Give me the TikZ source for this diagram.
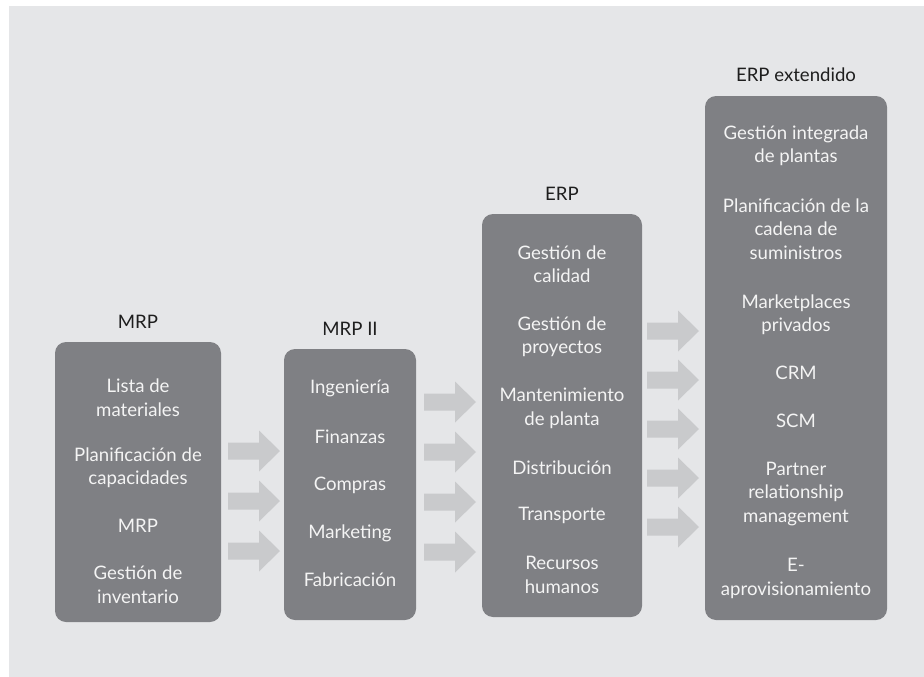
\documentclass[tikz,border=0pt]{standalone}
\usepackage{fontspec}
\setmainfont{Lato}
\definecolor{bgc}{HTML}{E5E6E8}
\definecolor{boxc}{HTML}{7F8084}
\definecolor{arrc}{HTML}{C9CACC}
\definecolor{txtc}{HTML}{F4F4F4}
\definecolor{hdc}{HTML}{1E1E1E}
\begin{document}
\begin{tikzpicture}[x=1pt,y=-1pt,
  box/.style={fill=boxc, rounded corners=11pt, inner sep=0pt},
  item/.style={text=txtc, align=center, inner sep=0pt, font=\fontsize{18.6}{23.5}\selectfont},
  hdr/.style={text=hdc, inner sep=0pt, font=\fontsize{18.6}{23.5}\selectfont},
  blockarrow/.pic={\fill[arrc] (0,-8.5) -- (31,-8.5) -- (31,-20.5) -- (52,0) -- (31,20.5) -- (31,8.5) -- (0,8.5) -- cycle;}]
\useasboundingbox (0,0) rectangle (924,677);
\fill[white] (0,0) rectangle (924,677);
\fill[bgc] (9,6) rectangle (924,677);

% boxes
\node[box, minimum width=166pt, minimum height=280pt] (mrp) at (138,482) {};
\node[box, minimum width=132pt, minimum height=271pt] (mrp2) at (350,484.5) {};
\node[box, minimum width=160pt, minimum height=403pt] (erp) at (562,415.5) {};
\node[box, minimum width=182pt, minimum height=524pt] (erpx) at (796,358) {};

% headers
\node[hdr] (hmrp) at (138,322) {MRP};
\node[hdr] (hmrp2) at (350,329) {MRP II};
\node[hdr] (herp) at (562,194) {ERP};
\node[hdr] (herpx) at (796,75) {ERP extendido};

% MRP items
\node[item] (m1) at (138,397.5) {Lista de\\materiales};
\node[item] (m2) at (138,467.5) {Planificación de\\capacidades};
\node[item] (m3) at (138,526) {MRP};
\node[item] (m4) at (138,584.5) {Gestión de\\inventario};

% MRP II items
\node[item] (n1) at (350,388) {Ingeniería};
\node[item] (n2) at (350,437) {Finanzas};
\node[item] (n3) at (350,485) {Compras};
\node[item] (n4) at (350,533) {Marketing};
\node[item] (n5) at (350,580) {Fabricación};

% ERP items
\node[item] (e1) at (562,264) {Gestión de\\calidad};
\node[item] (e2) at (562,336.5) {Gestión de\\proyectos};
\node[item] (e3) at (562,408.5) {Mantenimiento\\de planta};
\node[item] (e4) at (562,468) {Distribución};
\node[item] (e5) at (562,515) {Transporte};
\node[item] (e6) at (562,575) {Recursos\\humanos};

% ERP extendido items
\node[item] (x1) at (796,145.5) {Gestión integrada\\de plantas};
\node[item] (x2) at (796,229) {Planificación de la\\cadena de\\suministros};
\node[item] (x3) at (796,314.5) {Marketplaces\\privados};
\node[item] (x4) at (796,373) {CRM};
\node[item] (x5) at (796,421) {SCM};
\node[item] (x6) at (796,494) {Partner\\relationship\\management};
\node[item] (x7) at (796,578.5) {E-\\aprovisionamiento};

% arrows MRP -> MRP II
\pic (a1) at (228,451) {blockarrow};
\pic (a2) at (228,501) {blockarrow};
\pic (a3) at (228,551) {blockarrow};
% arrows MRP II -> ERP
\pic (b1) at (424,402) {blockarrow};
\pic (b2) at (424,452) {blockarrow};
\pic (b3) at (424,502) {blockarrow};
\pic (b4) at (424,552) {blockarrow};
% arrows ERP -> ERP extendido
\pic (c1) at (647,331) {blockarrow};
\pic (c2) at (647,380) {blockarrow};
\pic (c3) at (647,429) {blockarrow};
\pic (c4) at (647,478) {blockarrow};
\pic (c5) at (647,527) {blockarrow};
\end{tikzpicture}
\end{document}
